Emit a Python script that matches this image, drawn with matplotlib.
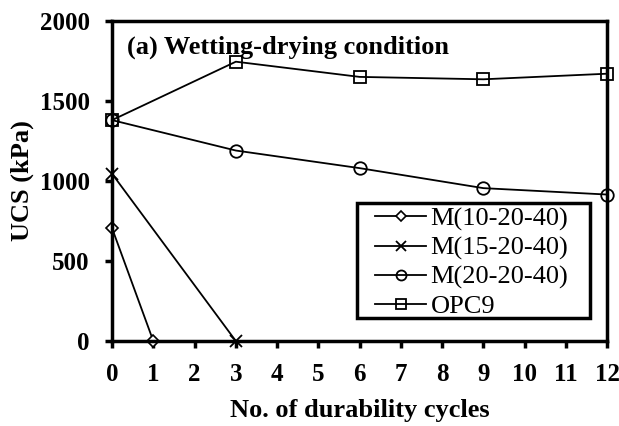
import matplotlib
import numpy as np

matplotlib.use('Agg')
import matplotlib.pyplot as plt
from matplotlib.patches import Rectangle

plt.rcParams['font.family'] = ['Liberation Serif', 'DejaVu Serif']

cycles_10 = [0, 1]
ucs_10 = [705, 0]
cycles_15 = [0, 3]
ucs_15 = [1045, 0]
cycles_20 = [0, 3, 6, 9, 12]
ucs_20 = [1380, 1190, 1080, 955, 915]
cycles_opc = [0, 3, 6, 9, 12]
ucs_opc = [1380, 1745, 1650, 1635, 1670]

fig = plt.figure(figsize=(6.19, 4.26), dpi=100)
ax = fig.add_axes([0.181, 0.1995, 0.8, 0.7515])

ax.plot(cycles_10, ucs_10, marker='D', ms=6, mfc='white', mec='black', mew=1.2, color='black', lw=1.3, label='M(10-20-40)', clip_on=False)
ax.plot(cycles_15, ucs_15, marker='x', ms=9, mew=1.3, color='black', lw=1.3, label='M(15-20-40)', clip_on=False)
ax.plot(cycles_20, ucs_20, marker='o', ms=9, mfc='none', mec='black', mew=1.3, color='black', lw=1.3, label='M(20-20-40)', clip_on=False)
ax.plot(cycles_opc, ucs_opc, marker='s', ms=9, mfc='none', mec='black', mew=1.3, color='black', lw=1.3, label='OPC9', clip_on=False)

ax.set_xlim(0, 12)
ax.set_ylim(0, 2000)
ax.set_xticks(np.arange(0, 13, 1))
ax.set_yticks([0, 500, 1000, 1500, 2000])
for s in ax.spines.values():
    s.set_linewidth(2.5)
ax.tick_params(direction='out', width=2.5, length=5, labelsize=18, pad=11)
for lab in ax.get_xticklabels() + ax.get_yticklabels():
    lab.set_fontweight('bold')

ax.set_xlabel('No. of durability cycles', fontsize=19, fontweight='bold', labelpad=9)
ax.set_ylabel('UCS (kPa)', fontsize=19, fontweight='bold', labelpad=4)
ax.text(0.03, 0.955, '(a) Wetting-drying condition', transform=ax.transAxes,
        fontsize=19, fontweight='bold', va='top', ha='left')

# legend box drawn separately so the side padding can be wider than the top/bottom
box = Rectangle((0.495, 0.072), 0.471, 0.359, transform=ax.transAxes,
                facecolor='white', edgecolor='black', lw=2.5, zorder=4, clip_on=False)
ax.add_patch(box)
leg = ax.legend(loc='upper left', bbox_to_anchor=(0.531, 0.418), fontsize=19,
                frameon=False, handlelength=1.95, handletextpad=0.15, markerscale=0.8,
                borderpad=0.0, labelspacing=0.2, borderaxespad=0.0)
leg.set_zorder(5)

fig.savefig('out.png', dpi=100)
